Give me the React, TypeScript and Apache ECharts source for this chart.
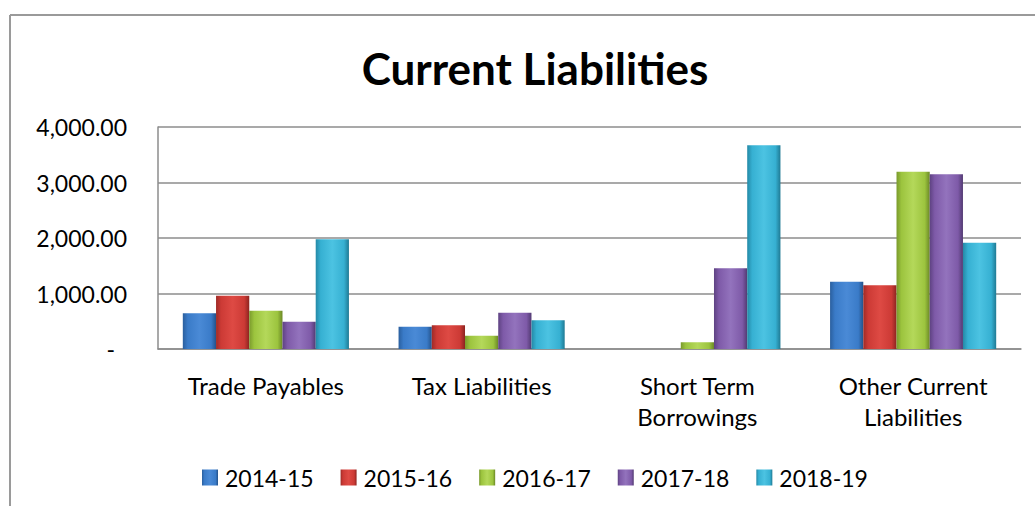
import React, { useEffect, useRef } from "react";
import * as echarts from "echarts";

const categories = ["Trade Payables", "Tax Liabilities", "Short Term\nBorrowings", "Other Current\nLiabilities"];
const seriesNames = ["2014-15", "2015-16", "2016-17", "2017-18", "2018-19"];
const v2014 = [643, 402, 0, 1213];
const v2015 = [960, 427, 0, 1148];
const v2016 = [690, 240, 120, 3195];
const v2017 = [492, 654, 1454, 3148];
const v2018 = [1977, 517, 3670, 1915];
const yTicks = [0, 1000, 2000, 3000, 4000];

const seriesValues = [v2014, v2015, v2016, v2017, v2018];
const palette = [
  ["#2a5f9e", "#4a8ad6", "#3a7bc8", "#24528a"],
  ["#9e2b27", "#de4a44", "#cc3a35", "#8c2420"],
  ["#7a9a2c", "#b4d85a", "#9cc43e", "#6b8826"],
  ["#5e4282", "#9373bd", "#7e5aa8", "#523a72"],
  ["#2489a6", "#4cc3e2", "#36b0d2", "#1f7a94"],
];

const FONT = "Lato, 'Open Sans', sans-serif";

function fmt(v: number) {
  if (v === yTicks[0]) return "{d|-}";
  return v.toLocaleString("en-US", { minimumFractionDigits: 2, maximumFractionDigits: 2 });
}

export default function App() {
  const ref = useRef<HTMLDivElement>(null);
  useEffect(() => {
    if (!ref.current) return;
    const chart = echarts.init(ref.current, null, { renderer: "svg" });
    chart.setOption({
      animation: false,
      backgroundColor: "#ffffff",
      title: {
        text: "Current Liabilities",
        left: 530,
        top: 41,
        textAlign: "center",
        textStyle: { fontFamily: FONT, fontSize: 44, fontWeight: "bold", color: "#000" },
      },
      legend: {
        data: seriesNames,
        left: 197,
        top: 461,
        itemWidth: 16,
        itemHeight: 16,
        itemGap: 27,
        icon: "rect",
        textStyle: { fontFamily: FONT, fontSize: 23, color: "#000", padding: [0, 0, 0, 2] },
      },
      grid: { left: 158, right: 14, top: 127, bottom: 157, containLabel: false },
      xAxis: {
        type: "category",
        data: categories,
        axisLine: { show: true, lineStyle: { color: "#8c8c8c", width: 1.5 } },
        axisTick: { show: false },
        axisLabel: {
          fontFamily: FONT,
          fontSize: 24,
          color: "#000",
          margin: 21,
          lineHeight: 31,
          interval: 0,
        },
      },
      yAxis: {
        type: "value",
        min: yTicks[0],
        max: yTicks[yTicks.length - 1],
        interval: 1000,
        axisLine: { show: true, lineStyle: { color: "#8c8c8c", width: 1.5 } },
        axisTick: { show: false },
        splitLine: { show: true, lineStyle: { color: "#8c8c8c", width: 1.5 } },
        axisLabel: {
          fontFamily: FONT,
          fontSize: 23,
          color: "#000",
          margin: 31,
          formatter: (v: number) => fmt(v),
          rich: { d: { fontFamily: FONT, fontSize: 23, color: "#000", padding: [0, 12, 0, 0] } },
        },
      },
      graphic: [
        { type: "line", shape: { x1: 10, y1: 15, x2: 1035, y2: 15 }, style: { stroke: "#9a9a9a", lineWidth: 2 } },
        { type: "line", shape: { x1: 10, y1: 15, x2: 10, y2: 506 }, style: { stroke: "#9a9a9a", lineWidth: 2 } },
      ],
      series: seriesNames.map((name, i) => ({
        name,
        type: "bar",
        data: seriesValues[i],
        barGap: "0%",
        barCategoryGap: "23%",
        itemStyle: {
          color: {
            type: "linear",
            x: 0,
            y: 0,
            x2: 1,
            y2: 0,
            colorStops: [
              { offset: 0, color: palette[i][0] },
              { offset: 0.15, color: palette[i][2] },
              { offset: 0.5, color: palette[i][1] },
              { offset: 0.85, color: palette[i][2] },
              { offset: 1, color: palette[i][3] },
            ],
          },
          borderWidth: 0,
        },
      })),
    });
    return () => chart.dispose();
  }, []);
  return <div ref={ref} style={{ width: 1035, height: 506, position: "absolute", left: 0, top: 0 }} />;
}
